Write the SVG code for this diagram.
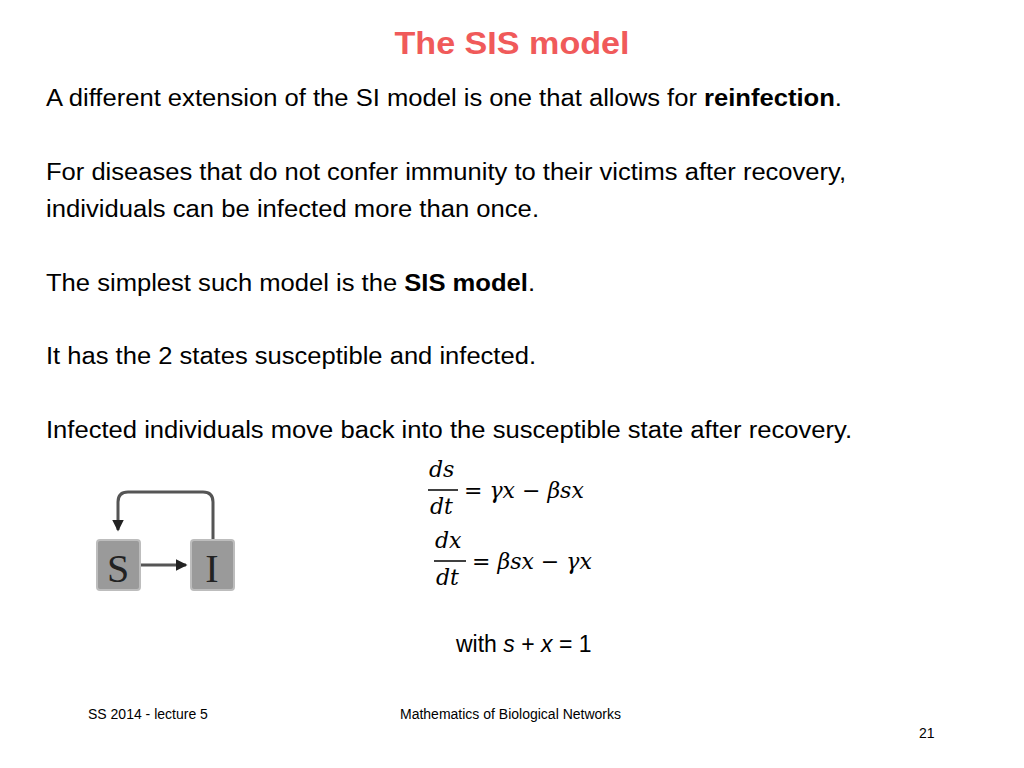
<svg xmlns="http://www.w3.org/2000/svg" width="1024" height="768" viewBox="0 0 1024 768">
<style>
.t{font-family:"Liberation Sans",Arial,sans-serif;font-size:23px;fill:#000}
.m{font-family:"DejaVu Serif","Liberation Serif",serif;font-style:italic;font-size:22px;fill:#000}
.f{font-family:"Liberation Sans",Arial,sans-serif;font-size:14px;fill:#000}
.box{fill:#9a9a9a;stroke:#bdbdbd;stroke-width:2}
.lbl{font-family:"Liberation Serif",serif;font-size:40px;fill:#222;text-anchor:middle}
.c{fill:none;stroke:#555;stroke-width:3}
</style>
<defs><marker id="ah" markerWidth="4" markerHeight="4" refX="3.5" refY="2" orient="auto"><path d="M0,0L4,2L0,4z" fill="#222"/></marker></defs>
<rect width="1024" height="768" fill="#fff"/>
<text x="512" y="54" text-anchor="middle" font-family="Liberation Sans,Arial,sans-serif" font-weight="bold" font-size="31" fill="#f05a5a" textLength="235" lengthAdjust="spacingAndGlyphs">The SIS model</text>
<text class="t" x="46" y="106" textLength="796" lengthAdjust="spacingAndGlyphs">A different extension of the SI model is one that allows for <tspan font-weight="bold">reinfection</tspan>.</text>
<text class="t" x="46" y="180" textLength="800" lengthAdjust="spacingAndGlyphs">For diseases that do not confer immunity to their victims after recovery,</text>
<text class="t" x="46" y="217" textLength="493" lengthAdjust="spacingAndGlyphs">individuals can be infected more than once.</text>
<text class="t" x="46" y="291" textLength="489" lengthAdjust="spacingAndGlyphs">The simplest such model is the <tspan font-weight="bold">SIS model</tspan>.</text>
<text class="t" x="46" y="364" textLength="490" lengthAdjust="spacingAndGlyphs">It has the 2 states susceptible and infected.</text>
<text class="t" x="46" y="438" textLength="806" lengthAdjust="spacingAndGlyphs">Infected individuals move back into the susceptible state after recovery.</text>
<g id="connectors">
<path class="c" d="M213,540 V502 Q213,492 203,492 H128 Q118,492 118,502 V530" marker-end="url(#ah)"/>
<line class="c" x1="139" y1="565" x2="186" y2="565" marker-end="url(#ah)"/>
</g>
<g id="S"><rect class="box" x="97" y="540" width="43" height="50" rx="3"/><text class="lbl" x="118" y="582">S</text></g>
<g id="I"><rect class="box" x="191" y="540" width="43" height="50" rx="3"/><text class="lbl" x="212" y="582">I</text></g>
<g id="eq">
<text class="m" x="429" y="477">ds</text><line x1="428" y1="490" x2="458" y2="490" stroke="#000" stroke-width="1.5"/><text class="m" x="430" y="514">dt</text>
<text class="m" x="464" y="498">= γx − βsx</text>
<text class="m" x="435" y="548">dx</text><line x1="434" y1="561" x2="466" y2="561" stroke="#000" stroke-width="1.5"/><text class="m" x="436" y="585">dt</text>
<text class="m" x="472" y="569">= βsx − γx</text>
</g>
<text class="t" x="456" y="652">with <tspan font-style="italic">s</tspan> + <tspan font-style="italic">x</tspan> = 1</text>
<text class="f" x="88" y="719">SS 2014 - lecture 5</text>
<text class="f" x="400" y="719">Mathematics of Biological Networks</text>
<text class="f" x="919" y="738">21</text>
</svg>
